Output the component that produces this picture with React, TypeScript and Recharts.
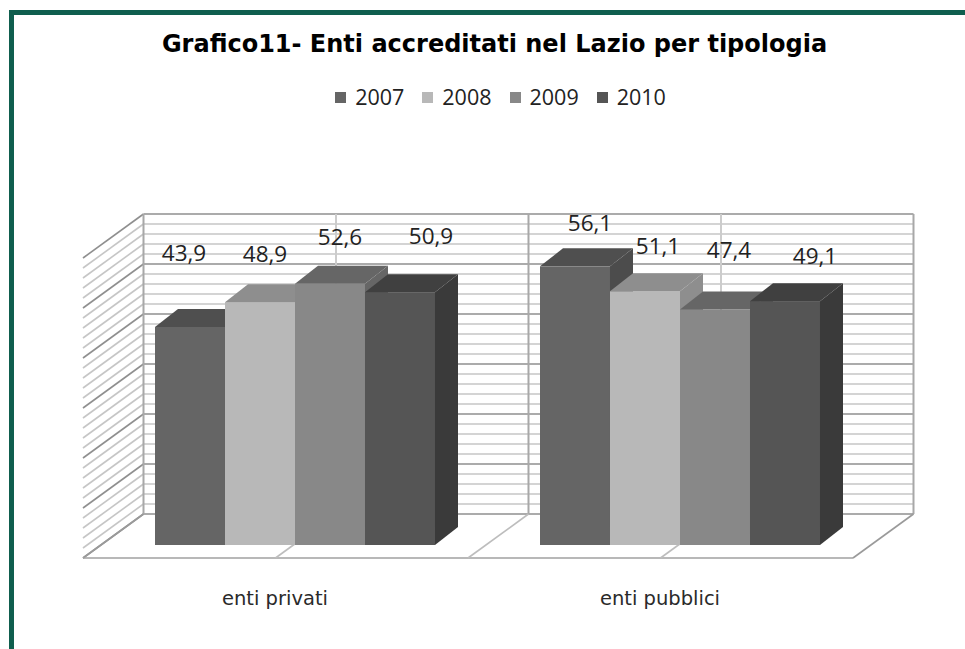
import { BarChart, Bar, XAxis, YAxis, CartesianGrid, Legend, LabelList } from "recharts";

const categories = ["enti privati", "enti pubblici"];
const years = ["2007", "2008", "2009", "2010"];
const values2007 = [43.9, 56.1];
const values2008 = [48.9, 51.1];
const values2009 = [52.6, 47.4];
const values2010 = [50.9, 49.1];
const gridTicks = [0, 2, 4, 6, 8, 10, 12, 14, 16, 18, 20, 22, 24, 26, 28, 30, 32, 34, 36, 38, 40, 42, 44, 46, 48, 50, 52, 54, 56, 58, 60];

const rows = categories.map((name, i) => ({
  name,
  "2007": values2007[i],
  "2008": values2008[i],
  "2009": values2009[i],
  "2010": values2010[i],
}));

const COLORS: Record<string, string[]> = {
  // front, top, side
  "2007": ["#656565", "#4f4f4f", "#4c4c4c"],
  "2008": ["#b8b8b8", "#8e8e8e", "#8e8e8e"],
  "2009": ["#888888", "#666666", "#666666"],
  "2010": ["#555555", "#404040", "#3a3a3a"],
};

// the labels sit where they were dragged in the original, one nudge per bar
const LABEL_NUDGE: Record<string, number[][]> = {
  "2007": [[-6, -72], [15, -41]],
  "2008": [[5, -46], [13, -43]],
  "2009": [[10, -45], [14, -58]],
  "2010": [[31, -54], [30, -43]],
};

const FONT = "'Open Sans', sans-serif";
const DEPTH_X = 23;
const DEPTH_Y = -18;

// wall and floor sit around the plane the bars stand on
const WALL_DX = 41;
const WALL_DY = -31;
const FLOOR_DX = -19.5;
const FLOOR_DY = 13;
const WALL_STRETCH = 300 / 298;

function Box(props: any) {
  const { x, y, width, height, colors } = props;
  const r = x + width;
  const b = y + height;
  return (
    <g>
      <rect x={x} y={y} width={width} height={height} fill={colors[0]} />
      <polygon
        points={`${x},${y} ${x + DEPTH_X},${y + DEPTH_Y} ${r + DEPTH_X},${y + DEPTH_Y} ${r},${y}`}
        fill={colors[1]}
      />
      <polygon
        points={`${r},${y} ${r + DEPTH_X},${y + DEPTH_Y} ${r + DEPTH_X},${b + DEPTH_Y} ${r},${b}`}
        fill={colors[2]}
      />
    </g>
  );
}

function WallLine(props: any) {
  const { x1, x2, y1, y, height } = props;
  const bottom = y + height;
  const value = Math.round(((bottom - y1) / height) * 60);
  const wallY = bottom + WALL_DY - (bottom - y1) * WALL_STRETCH;
  const stroke = value % 10 === 0 ? "#8f8f8f" : "#c6c6c6";
  return (
    <g>
      <line x1={x1 + WALL_DX} x2={x2 + WALL_DX} y1={wallY} y2={wallY} stroke={stroke} strokeWidth={1.6} />
      <line x1={x1 + WALL_DX} x2={x1 + FLOOR_DX} y1={wallY} y2={wallY + FLOOR_DY - WALL_DY} stroke={stroke} strokeWidth={1.6} />
    </g>
  );
}

function WallColumn(props: any) {
  const { x1, y1, y2, index, x, width } = props;
  const wallTop = y2 + WALL_DY - (y2 - y1) * WALL_STRETCH;
  const wallBottom = y2 + WALL_DY;
  const floorY = y2 + FLOOR_DY;
  const isEnd = index % 4 === 0;
  const stroke = index % 2 === 0 ? "#a8a8a8" : "#cccccc";
  return (
    <g>
      <line x1={x1 + WALL_DX} x2={x1 + WALL_DX} y1={wallTop} y2={wallBottom} stroke={stroke} strokeWidth={2} />
      <line x1={x1 + WALL_DX} x2={x1 + FLOOR_DX} y1={wallBottom} y2={floorY} stroke={isEnd ? "#9a9a9a" : "#bdbdbd"} strokeWidth={1.6} />
      {index === 0 && (
        <line x1={x + FLOOR_DX} x2={x + width + FLOOR_DX} y1={floorY} y2={floorY} stroke="#a0a0a0" strokeWidth={1.6} />
      )}
    </g>
  );
}

function CategoryTick(props: any) {
  const { x, y, payload } = props;
  return (
    <text x={x - 20} y={y + 46} textAnchor="middle" dominantBaseline="middle" fontFamily="'DejaVu Sans', sans-serif" fontSize={19.5} fill="#2a2a2a">
      {payload.value}
    </text>
  );
}

function BarLabel(props: any) {
  const { x, y, width, value, index, year } = props;
  const [dx, dy] = LABEL_NUDGE[year][index];
  return (
    <text x={x + width / 2 + dx} y={y + dy} textAnchor="middle" dominantBaseline="middle" fontFamily={FONT} fontSize={22.5} fill="#222222">
      {String(value).replace(".", ",")}
    </text>
  );
}

function LegendRow(props: any) {
  return (
    <div style={{ display: "flex", justifyContent: "center", gap: 18, fontFamily: FONT, fontSize: 21.5, color: "#222222", lineHeight: "24px" }}>
      {props.payload.map((item: any) => (
        <span key={item.value} style={{ display: "flex", alignItems: "center", gap: 9 }}>
          <span style={{ width: 11, height: 11, background: item.color, display: "inline-block" }} />
          {item.value}
        </span>
      ))}
    </div>
  );
}

export default function App() {
  return (
    <div style={{ position: "absolute", left: 0, top: 0, width: 965, height: 649, background: "#ffffff", overflow: "hidden" }}>
      <div style={{ position: "absolute", left: 9, top: 10, width: 956, height: 5, background: "#0f5e4e" }} />
      <div style={{ position: "absolute", left: 9, top: 10, width: 5, height: 639, background: "#0f5e4e" }} />
      <div
        style={{
          position: "absolute",
          left: 0,
          top: 30,
          width: 989,
          textAlign: "center",
          fontFamily: "'DejaVu Sans', sans-serif",
          fontWeight: "bold",
          fontSize: 24,
          color: "#000000",
          whiteSpace: "nowrap",
        }}
      >
        Grafico11- Enti accreditati nel Lazio per tipologia
      </div>
      <BarChart
        width={965}
        height={649}
        data={rows}
        margin={{ top: 223, right: 92.5, bottom: 74, left: 102.5 }}
        barCategoryGap="13.636%"
        barGap={0}
        style={{ position: "absolute", left: 0, top: 0 }}
      >
        <CartesianGrid
          horizontal={(p: any) => <WallLine key={p.key} {...p} />}
          vertical={(p: any) => <WallColumn key={p.key} {...p} />}
          verticalCoordinatesGenerator={({ offset }: any) => [0, 1, 2, 3, 4].map((i) => offset.left + (i * offset.width) / 4)}
        />
        <XAxis dataKey="name" height={30} axisLine={false} tickLine={false} tick={<CategoryTick />} />
        <YAxis hide domain={[0, 60]} ticks={gridTicks} interval={0} />
        <Legend
          verticalAlign="top"
          content={<LegendRow />}
          wrapperStyle={{ position: "absolute", top: 85, left: 0, width: 1001 }}
        />
        {years.map((year) => (
          <Bar
            key={year}
            dataKey={year}
            fill={COLORS[year][0]}
            isAnimationActive={false}
            shape={(p: any) => <Box {...p} colors={COLORS[year]} />}
          >
            <LabelList dataKey={year} content={(p: any) => <BarLabel {...p} year={year} />} />
          </Bar>
        ))}
      </BarChart>
    </div>
  );
}
